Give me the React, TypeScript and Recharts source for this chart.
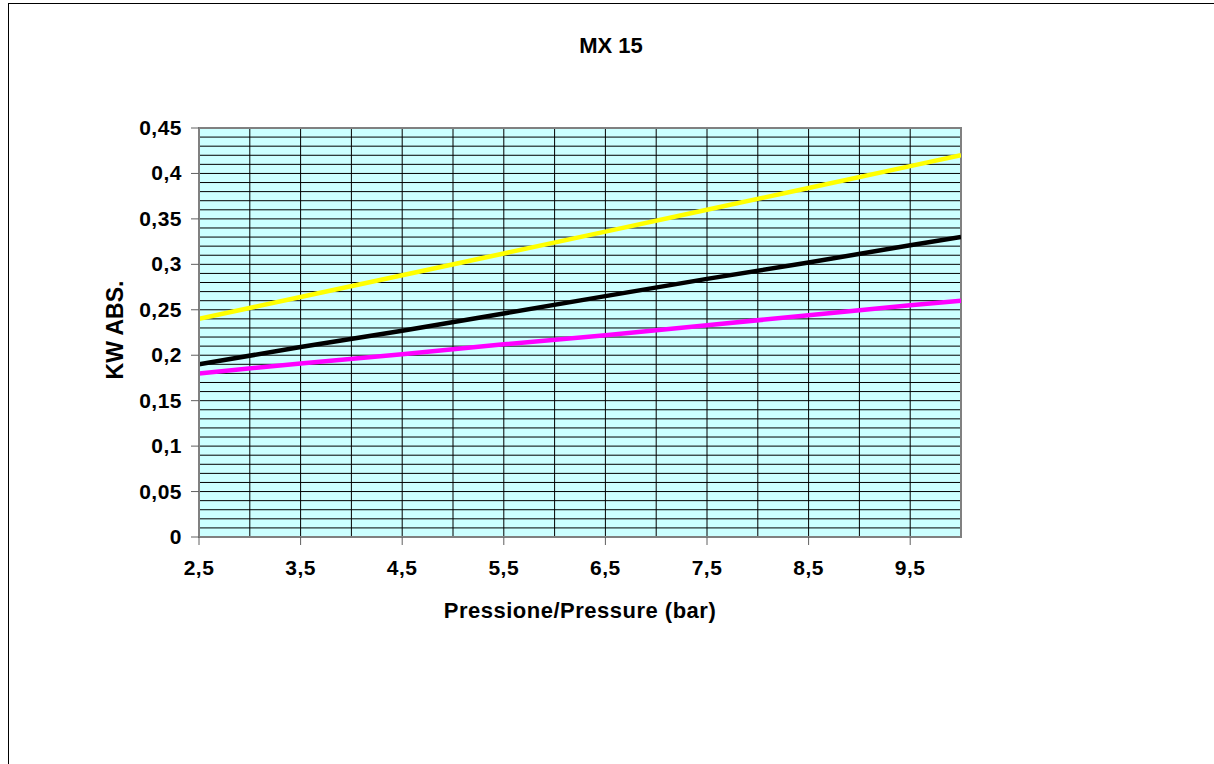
import React from "react";
import {
	CartesianGrid,
	Line,
	LineChart,
	ReferenceArea,
	XAxis,
	YAxis,
} from "recharts";

// Pressure (bar) readings
const pressure = [2.5, 3.5, 4.5, 5.5, 6.5, 7.5, 8.5, 9.5, 10];

// kW absorbed
const yellowKw = [0.24, 0.264, 0.288, 0.312, 0.336, 0.36, 0.384, 0.408, 0.42];
const blackKw = [0.19, 0.209, 0.227, 0.246, 0.265, 0.284, 0.302, 0.321, 0.33];
const magentaKw = [0.18, 0.191, 0.201, 0.212, 0.222, 0.233, 0.244, 0.255, 0.26];

// Axis ticks
const xTicks = [2.5, 3.5, 4.5, 5.5, 6.5, 7.5, 8.5, 9.5];
const yTicks = [0, 0.05, 0.1, 0.15, 0.2, 0.25, 0.3, 0.35, 0.4, 0.45];

// Grid: every 0.5 bar, every 0.01 kW
const xGrid: number[] = [];
for (let i = 0; i <= 15; i++) xGrid.push(2.5 + i * 0.5);
const yGrid: number[] = [];
for (let i = 0; i <= 45; i++) yGrid.push(i / 100);

const data = pressure.map((p, i) => ({
	p,
	yellow: yellowKw[i],
	black: blackKw[i],
	magenta: magentaKw[i],
}));

const FONT = "'Liberation Sans', Arial, sans-serif";
const fmt = (v: number) => String(v).replace(".", ",");

// custom ticks so the bold labels keep their size
const XTick = ({ x, y, payload }: any) => (
	<text
		x={x}
		y={y + 18}
		textAnchor="middle"
		fontSize={21}
		fontWeight={700}
		letterSpacing={0.5}
		fontFamily={FONT}
		fill="#000"
	>
		{fmt(payload.value)}
	</text>
);

const YTick = ({ x, y, payload }: any) => (
	<text
		x={x + 1}
		y={y + 7}
		textAnchor="end"
		fontSize={21}
		fontWeight={700}
		letterSpacing={0.5}
		fontFamily={FONT}
		fill="#000"
	>
		{fmt(payload.value)}
	</text>
);

export default function App() {
	return (
		<div
			style={{
				position: "absolute",
				left: 0,
				top: 0,
				width: 1214,
				height: 764,
				background: "#fff",
				overflow: "hidden",
				fontFamily: FONT,
			}}
		>
			{/* outer chart frame */}
			<div
				style={{
					position: "absolute",
					left: 8,
					top: 3,
					width: 1230,
					height: 800,
					borderTop: "1.5px solid #000",
					borderLeft: "1.5px solid #000",
				}}
			/>
			<div
				style={{
					position: "absolute",
					left: 0,
					width: 1214,
					top: 33,
					textAlign: "center",
					fontSize: 22,
					fontWeight: 700,
					paddingLeft: 4,
				}}
			>
				MX 15
			</div>
			<div
				style={{
					position: "absolute",
					left: 199,
					width: 762,
					top: 598,
					textAlign: "center",
					fontSize: 22,
					fontWeight: 700,
					letterSpacing: 0.5,
				}}
			>
				Pressione/Pressure (bar)
			</div>
			<div
				style={{
					position: "absolute",
					left: 115,
					top: 330,
					transform: "translate(-50%, -50%) rotate(-90deg)",
					fontSize: 23,
					fontWeight: 700,
					whiteSpace: "nowrap",
				}}
			>
				KW ABS.
			</div>
			<div style={{ position: "absolute", left: 0, top: 0 }}>
				<LineChart
					width={1214}
					height={764}
					data={data}
					margin={{ top: 128, right: 253, left: 0, bottom: 0 }}
				>
					<CartesianGrid
						fill="#CCFFFF"
						stroke="#000"
						strokeWidth={1}
						horizontalValues={yGrid}
						verticalValues={xGrid}
					/>
					<XAxis
						dataKey="p"
						type="number"
						domain={[2.5, 10]}
						ticks={xTicks}
						height={227}
						tickSize={8}
						tickMargin={12}
						axisLine={{ stroke: "#808080", strokeWidth: 2 }}
						tickLine={{ stroke: "#606060" }}
						tick={<XTick />}
						interval={0}
						allowDataOverflow
					/>
					<YAxis
						type="number"
						domain={[0, 0.45]}
						ticks={yTicks}
						width={199}
						tickSize={8}
						tickMargin={10}
						axisLine={{ stroke: "#808080", strokeWidth: 2 }}
						tickLine={{ stroke: "#606060" }}
						tick={<YTick />}
						interval={0}
						allowDataOverflow
					/>
					<ReferenceArea
						x1={2.5}
						x2={10}
						y1={0}
						y2={0.45}
						fill="none"
						fillOpacity={0}
						stroke="#808080"
						strokeWidth={2}
						ifOverflow="extendDomain"
					/>
					<Line
						type="linear"
						dataKey="yellow"
						stroke="#FFFF00"
						strokeWidth={4.5}
						dot={false}
						activeDot={false}
						isAnimationActive={false}
					/>
					<Line
						type="linear"
						dataKey="black"
						stroke="#000000"
						strokeWidth={4.5}
						dot={false}
						activeDot={false}
						isAnimationActive={false}
					/>
					<Line
						type="linear"
						dataKey="magenta"
						stroke="#FF00FF"
						strokeWidth={4.5}
						dot={false}
						activeDot={false}
						isAnimationActive={false}
					/>
				</LineChart>
			</div>
		</div>
	);
}
